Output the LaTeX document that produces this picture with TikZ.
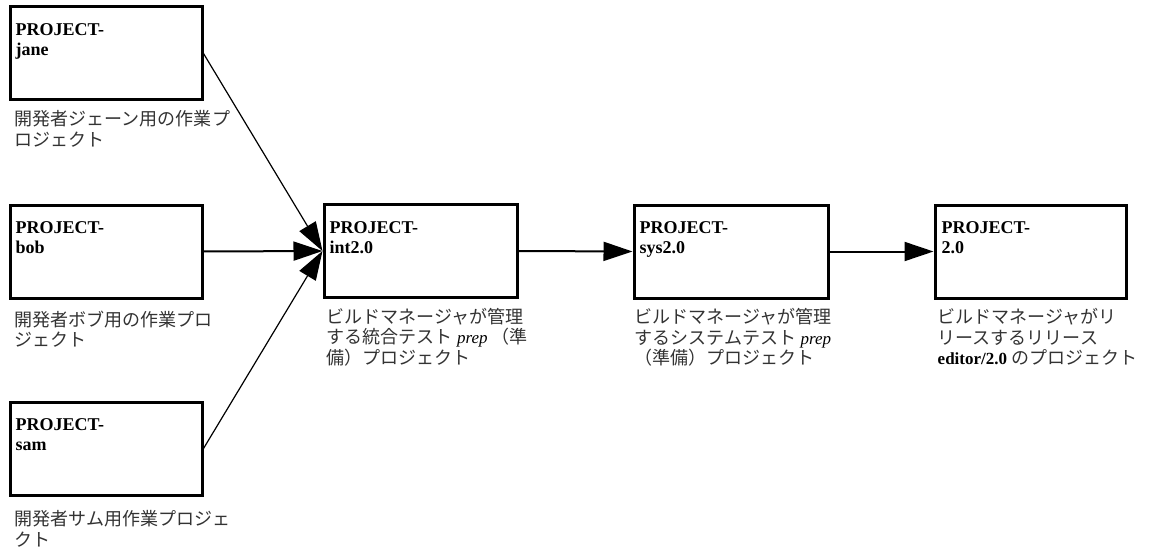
\documentclass[tikz,border=0pt]{standalone}
\usepackage{fontspec}
\setmainfont{Liberation Serif}
\newfontfamily\jp[Scale=1.06]{Noto Sans CJK JP}
\newcommand{\jt}[1]{{\jp\color{black!80}#1}}
\usetikzlibrary{positioning}
\usetikzlibrary{arrows.meta}

\begin{document}
\begin{tikzpicture}[x=1pt, y=-1pt, >={Triangle[length=29pt,width=19pt]},
        projbox/.style={draw, rectangle, line width=3pt, minimum width=192pt, minimum height=93pt, inner sep=0pt},
        projtitle/.style={font=\fontsize{18}{20}\selectfont\bfseries, align=left, inner sep=0pt},
        projnote/.style={font=\fontsize{17}{20.5}\selectfont, align=left, inner sep=0pt},
        feed/.style={->, line width=1.2pt},
        promote/.style={->, line width=2pt}]
        \useasboundingbox (0,0) rectangle (1155,548);

        % Developer workspaces
        % jane
        \node[projbox] (jane) at (106,53.5) {};
        \node[projtitle, below right=18pt and 7pt of jane.north west] (jane title) {PROJECT-\\jane};
        \node[projnote, below right=9pt and 6pt of jane.south west] (jane note) {\jt{開発者ジェーン用の作業プ}\\\jt{ロジェクト}};
        % bob
        \node[projbox] (bob) at (106,251.5) {};
        \node[projtitle, below right=18pt and 7pt of bob.north west] (bob title) {PROJECT-\\bob};
        \node[projnote, below right=11pt and 6pt of bob.south west] (bob note) {\jt{開発者ボブ用の作業プロ}\\\jt{ジェクト}};
        % sam
        \node[projbox] (sam) at (106,448.5) {};
        \node[projtitle, below right=18pt and 7pt of sam.north west] (sam title) {PROJECT-\\sam};
        \node[projnote, below right=14pt and 6pt of sam.south west] (sam note) {\jt{開発者サム用作業プロジェ}\\\jt{クト}};

        % Integration prep project
        \node[projbox, minimum width=193pt] (int) at (420.5,251) {};
        \node[projtitle, below right=18pt and 7pt of int.north west] (int title) {PROJECT-\\int2.0};
        \node[projnote, below right=9pt and 4pt of int.south west] (int note) {\jt{ビルドマネージャが管理}\\\jt{する統合テスト} \textit{prep} \jt{（準}\\\jt{備）プロジェクト}};

        % System test prep project
        \node[projbox, minimum width=194pt] (sys) at (731,251.5) {};
        \node[projtitle, below right=18pt and 7pt of sys.north west] (sys title) {PROJECT-\\sys2.0};
        \node[projnote, below right=9pt and 2pt of sys.south west] (sys note) {\jt{ビルドマネージャが管理}\\\jt{するシステムテスト} \textit{prep}\\\jt{（準備）プロジェクト}};

        % Release project
        \node[projbox, minimum width=191pt] (rel) at (1030.5,251.5) {};
        \node[projtitle, below right=18pt and 8pt of rel.north west] (rel title) {PROJECT-\\2.0};
        \node[projnote, below right=9pt and 4pt of rel.south west] (rel note) {\jt{ビルドマネージャがリ}\\\jt{リースするリリース}\\\textbf{editor/2.0} \jt{のプロジェクト}};

        % Arrows into the integration project
        \draw[feed] (jane.east) -- (int.west);
        \draw[promote] (bob.east) -- (int.west);
        \draw[feed] (sam.east) -- (int.west);
        % Arrows along the promotion chain
        \draw[promote] (int.east) -- (sys.west);
        \draw[promote] (sys.east) -- (rel.west);
    \end{tikzpicture}
\end{document}
